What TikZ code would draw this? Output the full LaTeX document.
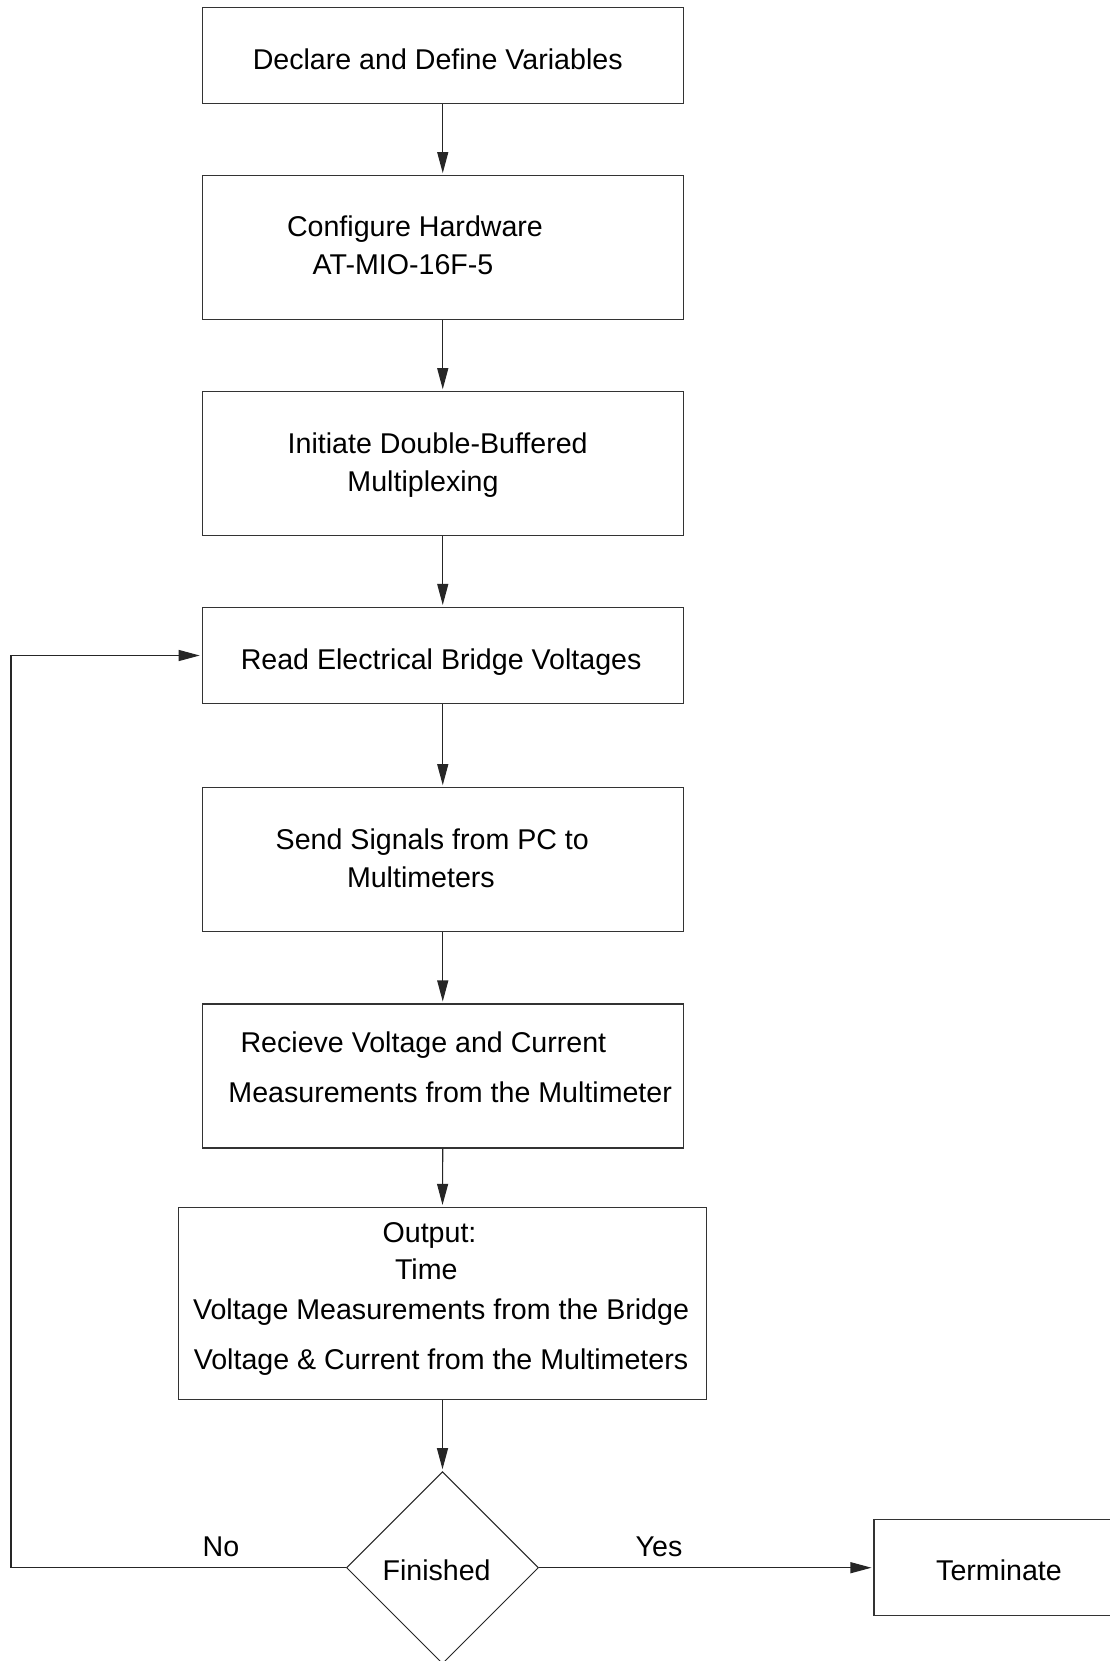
\documentclass[tikz,border=0pt]{standalone}
\usepackage{fontspec}
\setmainfont{Liberation Sans}
\usetikzlibrary{arrows.meta,shapes.geometric}
\begin{document}
\begin{tikzpicture}[x=1pt,y=-1pt,
  box/.style={rectangle, draw=black!80, line width=1.1pt, minimum width=481pt, inner sep=0pt},
  decision/.style={diamond, draw=black!85, line width=1pt, minimum width=192pt, minimum height=192pt, inner sep=0pt},
  lbl/.style={anchor=base, inner sep=0pt, font=\fontsize{28.6}{34}\selectfont},
  flow/.style={draw=black!85, line width=1.1pt, -{Triangle[length=21pt,width=11pt]}, shorten >=2pt}]

% page frame
\useasboundingbox (0,0) rectangle (1110,1661);
\fill[white] (0,0) rectangle (1110,1661);
\clip (0,0) rectangle (1110,1661);

% process boxes
\node[box, minimum height=96pt]  (b1) at (442.75,55.75) {};
\node[box, minimum height=144pt] (b2) at (442.75,247.65) {};
\node[box, minimum height=144pt] (b3) at (442.75,463.75) {};
\node[box, minimum height=96pt]  (b4) at (442.75,655.5) {};
\node[box, minimum height=144pt] (b5) at (442.75,859.7) {};
\node[box, minimum height=144pt] (b6) at (442.75,1076) {};
\node[box, minimum width=528pt, minimum height=192pt] (b7) at (442.5,1303.45) {};
\node[decision] (dec) at (442.5,1567.7) {};
\node[box, minimum height=96pt]  (term) at (1114.5,1567.7) {};

% texts
\node[lbl] (t1)  at (437.7,69.5)   {Declare and Define Variables};
\node[lbl] (t2a) at (415,237)      {Configure Hardware};
\node[lbl] (t2b) at (403,275)      {AT-MIO-16F-5};
\node[lbl] (t3a) at (437.7,453.5)  {Initiate Double-Buffered};
\node[lbl] (t3b) at (423,491)      {Multiplexing};
\node[lbl] (t4)  at (441.1,669.5)  {Read Electrical Bridge Voltages};
\node[lbl] (t5a) at (432.3,849.5)  {Send Signals from PC to};
\node[lbl] (t5b) at (420.9,887)    {Multimeters};
\node[lbl] (t6a) at (423.4,1052.5) {Recieve Voltage and Current};
\node[lbl] (t6b) at (450.2,1102)   {Measurements from the Multimeter};
\node[lbl] (t7a) at (429.5,1242.5) {Output:};
\node[lbl] (t7b) at (426.3,1279)   {Time};
\node[lbl] (t7c) at (441,1319)     {Voltage Measurements from the Bridge};
\node[lbl] (t7d) at (441,1369.5)   {Voltage \& Current from the Multimeters};
\node[lbl] (t8)  at (436.6,1580.5) {Finished};
\node[lbl] (t9)  at (999,1580.5)   {Terminate};
\node[lbl] (no)  at (221,1556)     {No};
\node[lbl] (yes) at (659,1556)     {Yes};

% connectors
\draw[flow] (b1.south) -- (b2.north);
\draw[flow] (b2.south) -- (b3.north);
\draw[flow] (b3.south) -- (b4.north);
\draw[flow] (b4.south) -- (b5.north);
\draw[flow] (b5.south) -- (b6.north);
\draw[flow] (b6.south) -- (b7.north);
\draw[flow] (b7.south) -- (dec.north);
\coordinate (loop) at (11,1567.7);
\draw[flow] (dec.west) -- (loop) |- (b4.west);
\draw[flow] (dec.east) -- (term.west);
\end{tikzpicture}
\end{document}
